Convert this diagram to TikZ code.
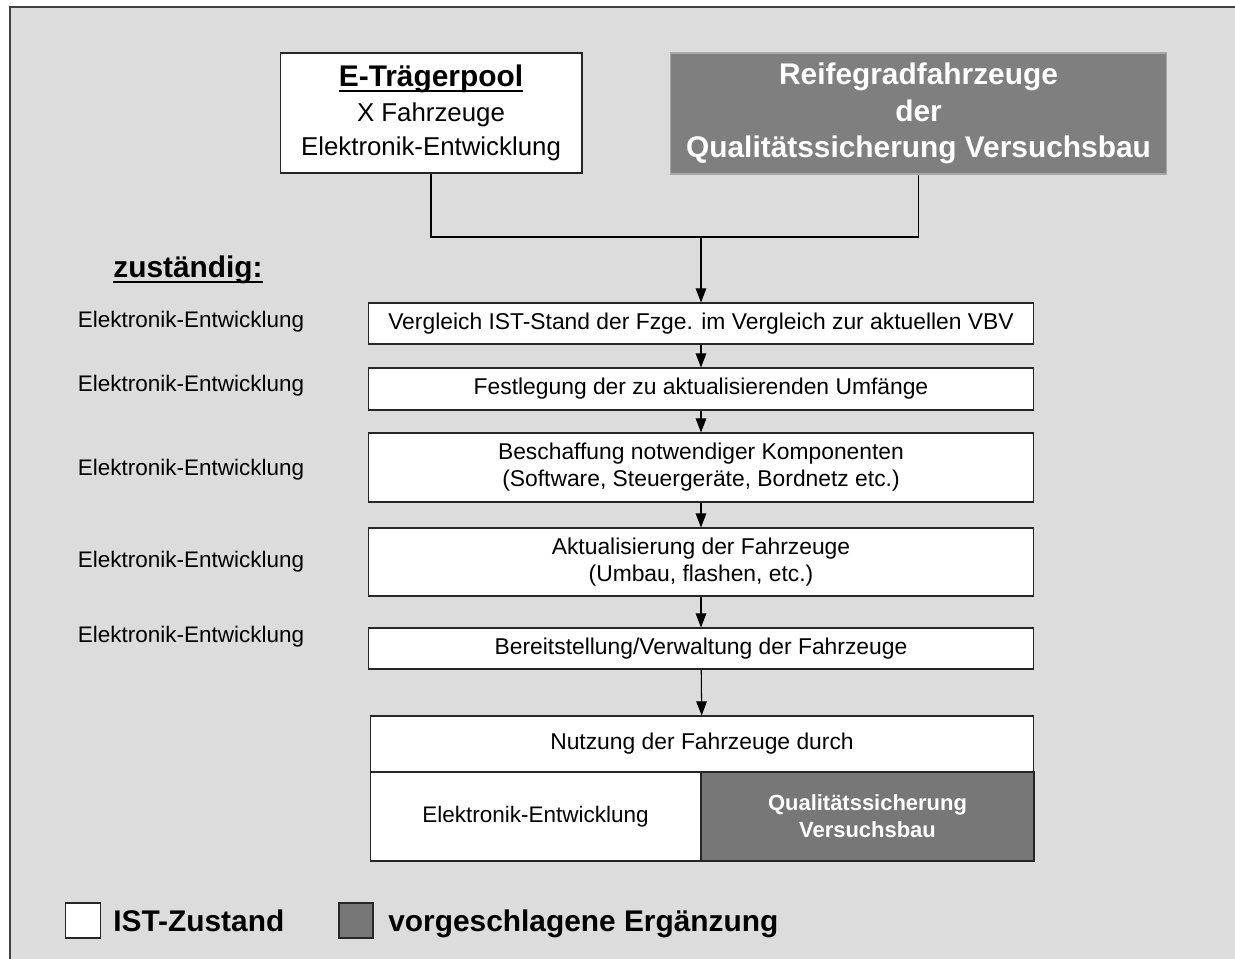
\documentclass[tikz,border=0pt]{standalone}
\usepackage{fontspec}
\setmainfont{Liberation Sans}
\usepackage{tikz}
\usetikzlibrary{
	arrows.meta
}
\definecolor{paper}{RGB}{220,220,220}
\definecolor{frameline}{RGB}{64,64,64}
\definecolor{newfill}{RGB}{127,127,127}
\definecolor{newfillb}{RGB}{119,119,119}
\definecolor{newedge}{RGB}{168,168,168}
% heavier underline for the bold headings
\newcommand{\thickul}[1]{\setbox0\hbox{#1}\rlap{\rule[-3pt]{\wd0}{1.3pt}}\box0}

\begin{document}
\begin{tikzpicture}[x=0.02cm,y=-0.02cm,
		box/.style={draw=black!85,fill=white,line width=0.6pt,inner sep=0pt,align=center},
		flowbox/.style={box,minimum width=13.32cm,font=\fontsize{13}{15.3}\selectfont},
		newbox/.style={box,fill=newfillb,text=white},
		resp/.style={font=\fontsize{12.8}{15}\selectfont},
		legtext/.style={anchor=base west,inner sep=0pt,font=\fontsize{17}{20}\bfseries},
		flow/.style={line width=0.6pt,-{Triangle[length=8pt,width=6pt]}}]
		\useasboundingbox (0,0) rectangle (1235,958);
		\draw[frameline,line width=1.2pt,fill=paper] (10,7) rectangle (1260,985);
		% sources
		\node[box,minimum width=6.04cm,minimum height=2.4cm,font=\fontsize{14.7}{19.5}\selectfont] (pool) at (431,113)
			{{\fontsize{17}{19.5}\bfseries\thickul{E-Trägerpool}}\\X Fahrzeuge\\Elektronik-Entwicklung};
		\node[box,draw=newedge,fill=newfill,text=white,minimum width=9.94cm,minimum height=2.42cm,font=\fontsize{17}{20.7}\bfseries] (reife) at (918.5,113.5)
			{Reifegradfahrzeuge\\der\\Qualitätssicherung Versuchsbau};
		\coordinate (join) at (701,237);
		\draw[line width=0.6pt] (pool.south) |- (join) -| (reife.south);
		% process chain
		\node[font=\fontsize{17}{20}\bfseries] (zust) at (188,270) {\thickul{zuständig:}};
		\node[flowbox,minimum height=0.82cm] (vgl) at (701,323.5) {Vergleich IST-Stand der Fzge. im Vergleich zur aktuellen VBV};
		\node[flowbox,minimum height=0.84cm] (fest) at (701,389) {Festlegung der zu aktualisierenden Umfänge};
		\node[flowbox,minimum height=1.38cm] (besch) at (701,467.5) {Beschaffung notwendiger Komponenten\\(Software, Steuergeräte, Bordnetz etc.)};
		\node[flowbox,minimum height=1.36cm] (akt) at (701,562) {Aktualisierung der Fahrzeuge\\(Umbau, flashen, etc.)};
		\node[flowbox,minimum height=0.82cm] (bereit) at (701,648.5) {Bereitstellung/Verwaltung der Fahrzeuge};
		\node[flowbox,minimum width=13.28cm,minimum height=1.12cm] (nutz) at (702,744) {Nutzung der Fahrzeuge durch};
		\node[box,minimum width=6.62cm,minimum height=1.78cm,font=\fontsize{12.8}{15}\selectfont] (nutzee) at (535.5,816.5) {Elektronik-Entwicklung};
		\node[newbox,minimum width=6.66cm,minimum height=1.78cm,font=\fontsize{12.5}{15.3}\bfseries] (nutzqs) at (867.5,816.5) {Qualitätssicherung\\Versuchsbau};
		\draw[flow] (join) -- (vgl);
		\draw[flow] (vgl) -- (fest);
		\draw[flow] (fest) -- (besch);
		\draw[flow] (besch) -- (akt);
		\draw[flow] (akt) -- (bereit);
		\draw[flow] (bereit) -- (nutz);
		% responsibilities
		\node[resp] (resp1) at (191,322) {Elektronik-Entwicklung};
		\node[resp] (resp2) at (191,386) {Elektronik-Entwicklung};
		\node[resp] (resp3) at (191,470) {Elektronik-Entwicklung};
		\node[resp] (resp4) at (191,562) {Elektronik-Entwicklung};
		\node[resp] (resp5) at (191,637) {Elektronik-Entwicklung};
		% legend
		\node[box,minimum width=0.7cm,minimum height=0.7cm] (legist) at (83,920.5) {};
		\node[legtext] (legisttext) at (113,931.5) {IST-Zustand};
		\node[newbox,minimum width=0.68cm,minimum height=0.7cm] (legneu) at (356,920.5) {};
		\node[legtext] (legneutext) at (388,931.5) {vorgeschlagene Ergänzung};
	\end{tikzpicture}
\end{document}
